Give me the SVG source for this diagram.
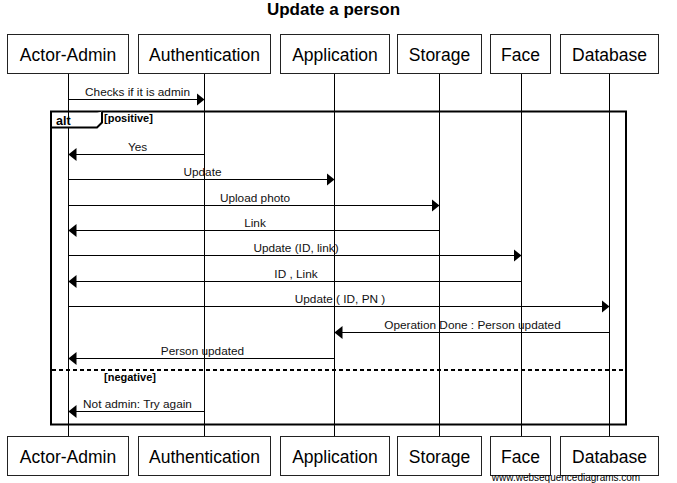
<svg xmlns="http://www.w3.org/2000/svg" width="677" height="483" viewBox="0 0 677 483">
<style>
.bg{fill:#fff}
.box rect{fill:#fff;stroke:#222;stroke-width:1}
.box text{font-family:"Liberation Sans",Arial,sans-serif;font-size:17.5px;fill:#000;text-anchor:middle}
.life{stroke:#000;stroke-width:1}
.msg line{stroke:#000;stroke-width:1}
.msg text{font-family:"Liberation Sans",Arial,sans-serif;font-size:11.8px;fill:#111;text-anchor:middle}
.frame{fill:none;stroke:#000;stroke-width:2}
.lbl{font-family:"Liberation Sans",Arial,sans-serif;font-weight:bold;fill:#000}
</style>
<defs>
<marker id="ah" viewBox="0 0 8 13" refX="8" refY="6.5" markerWidth="8" markerHeight="13" markerUnits="userSpaceOnUse" orient="auto">
<path d="M0,0 L8,6.5 L0,13 z" fill="#000"/>
</marker>
</defs>
<rect class="bg" x="0" y="0" width="677" height="483"/>
<text x="333.5" y="15" class="lbl" font-size="17" text-anchor="middle">Update a person</text>

<g id="lifelines">
<line class="life" x1="68.5" y1="73" x2="68.5" y2="437"/>
<line class="life" x1="204.5" y1="73" x2="204.5" y2="437"/>
<line class="life" x1="334.5" y1="73" x2="334.5" y2="437"/>
<line class="life" x1="439.5" y1="73" x2="439.5" y2="437"/>
<line class="life" x1="521.5" y1="73" x2="521.5" y2="437"/>
<line class="life" x1="609.5" y1="73" x2="609.5" y2="437"/>
</g>

<g id="alt-frame">
<rect class="frame" x="51" y="111.5" width="575" height="313"/>
<path d="M51,127.5 H97 L102,122.5 V111.5" fill="#fff" stroke="#000" stroke-width="2"/>
<text x="56" y="125" class="lbl" font-size="12.5">alt</text>
<text x="104" y="121.5" class="lbl" font-size="11">[positive]</text>
<line x1="52" y1="370" x2="625" y2="370" stroke="#000" stroke-width="2" stroke-dasharray="4,3"/>
<text x="104" y="381" class="lbl" font-size="11">[negative]</text>
</g>

<g id="connectors" class="msg">
<line x1="68.5" y1="99.5" x2="204.5" y2="99.5" marker-end="url(#ah)"/>
<text x="137.5" y="96">Checks if it is admin</text>
<line x1="204.5" y1="154.5" x2="68.5" y2="154.5" marker-end="url(#ah)"/>
<text x="137.5" y="151">Yes</text>
<line x1="68.5" y1="179.5" x2="334.5" y2="179.5" marker-end="url(#ah)"/>
<text x="202.5" y="176">Update</text>
<line x1="68.5" y1="205.5" x2="439.5" y2="205.5" marker-end="url(#ah)"/>
<text x="255" y="202">Upload photo</text>
<line x1="439.5" y1="230.5" x2="68.5" y2="230.5" marker-end="url(#ah)"/>
<text x="255" y="227">Link</text>
<line x1="68.5" y1="255.5" x2="521.5" y2="255.5" marker-end="url(#ah)"/>
<text x="296" y="252">Update (ID, link)</text>
<line x1="521.5" y1="281.5" x2="68.5" y2="281.5" marker-end="url(#ah)"/>
<text x="296" y="278">ID , Link</text>
<line x1="68.5" y1="306.5" x2="609.5" y2="306.5" marker-end="url(#ah)"/>
<text x="340" y="303">Update ( ID, PN )</text>
<line x1="609.5" y1="332.5" x2="334.5" y2="332.5" marker-end="url(#ah)"/>
<text x="472.5" y="329">Operation Done : Person updated</text>
<line x1="334.5" y1="358.5" x2="68.5" y2="358.5" marker-end="url(#ah)"/>
<text x="202.5" y="355">Person updated</text>
<line x1="204.5" y1="411.5" x2="68.5" y2="411.5" marker-end="url(#ah)"/>
<text x="137.5" y="408">Not admin: Try again</text>
</g>

<g id="actor-admin" class="box">
<rect x="7.5" y="34.5" width="121" height="39"/><text x="68" y="61">Actor-Admin</text>
<rect x="7.5" y="436.5" width="121" height="39"/><text x="68" y="463">Actor-Admin</text>
</g>
<g id="authentication" class="box">
<rect x="138.5" y="34.5" width="132" height="39"/><text x="204.5" y="61">Authentication</text>
<rect x="138.5" y="436.5" width="132" height="39"/><text x="204.5" y="463">Authentication</text>
</g>
<g id="application" class="box">
<rect x="280.5" y="34.5" width="109" height="39"/><text x="335" y="61">Application</text>
<rect x="280.5" y="436.5" width="109" height="39"/><text x="335" y="463">Application</text>
</g>
<g id="storage" class="box">
<rect x="397.5" y="34.5" width="84" height="39"/><text x="439.5" y="61">Storage</text>
<rect x="397.5" y="436.5" width="84" height="39"/><text x="439.5" y="463">Storage</text>
</g>
<g id="face" class="box">
<rect x="490.5" y="34.5" width="60" height="39"/><text x="520.5" y="61">Face</text>
<rect x="490.5" y="436.5" width="60" height="39"/><text x="520.5" y="463">Face</text>
</g>
<g id="database" class="box">
<rect x="560.5" y="34.5" width="98" height="39"/><text x="609.5" y="61">Database</text>
<rect x="560.5" y="436.5" width="98" height="39"/><text x="609.5" y="463">Database</text>
</g>

<text x="566" y="481" font-family="'Liberation Sans',Arial,sans-serif" font-size="10" fill="#000" text-anchor="middle">www.websequencediagrams.com</text>
</svg>
